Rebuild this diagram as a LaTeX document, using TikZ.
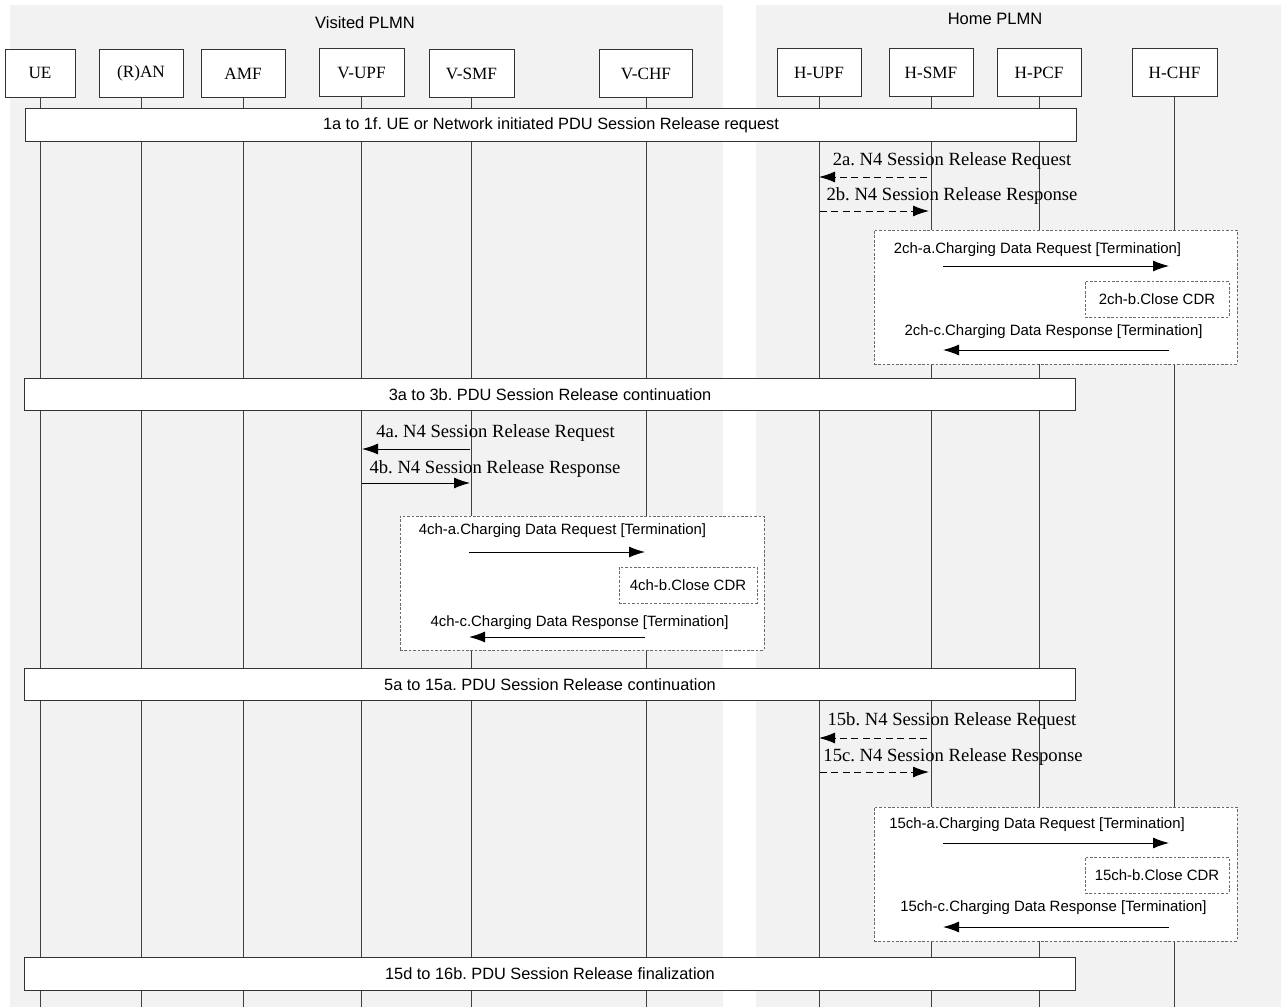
\documentclass[tikz,border=0pt]{standalone}
\usepackage{fontspec}
\setmainfont{Liberation Serif}
\newfontfamily\arialf{Liberation Sans}
\usetikzlibrary{arrows.meta}
\definecolor{plmnbg}{HTML}{F2F2F2}
\definecolor{lifegray}{HTML}{404040}
\definecolor{boxgray}{HTML}{6A6A6A}
\frenchspacing
\begin{document}
\frenchspacing
\begin{tikzpicture}[x=0.02cm,y=-0.02cm,
 entity/.style={draw=black!80, fill=white, line width=0.5pt, minimum height=0.96cm, inner sep=0pt, font=\fontsize{9.8}{11}\selectfont},
 lifeline/.style={draw=lifegray, line width=0.55pt},
 bar/.style={draw=black!80, fill=white, line width=0.5pt, minimum height=0.65cm, minimum width=21.04cm, inner sep=0pt, font=\arialf\fontsize{9.3}{11}\selectfont},
 group/.style={draw=boxgray, fill=white, dash pattern=on 1.5pt off 1pt, line width=0.5pt, inner sep=0pt},
 cdrbox/.style={group, minimum width=2.88cm, minimum height=0.72cm, font=\arialf\fontsize{8.5}{10}\selectfont},
 n4lbl/.style={font=\fontsize{10.6}{12}\selectfont, inner sep=0pt},
 chlbl/.style={font=\arialf\fontsize{8.5}{10}\selectfont, inner sep=0pt},
 msg/.style={-{Latex[length=0.32cm,width=0.22cm]}, line width=0.55pt, draw=black},
 dmsg/.style={msg, dash pattern=on 4pt off 2.5pt},
 titlelbl/.style={font=\arialf\fontsize{9.4}{11}\selectfont, inner sep=0pt}
]
\useasboundingbox (0,0) rectangle (1284,1007);
\coordinate (bottom) at (0,1007);
% backgrounds
\fill[plmnbg] (10,5) rectangle (723,1007);
\fill[plmnbg] (756,5) rectangle (1281,1007);
\node[titlelbl] (vtitle) at (365,23) {Visited PLMN};
\node[titlelbl] (htitle) at (995,19) {Home PLMN};
% entities
\node[entity, minimum width=1.40cm] (ue)   at (40,73)    {UE};
\node[entity, minimum width=1.68cm] (ran)  at (141,73)   {(R)AN};
\node[entity, minimum width=1.68cm] (amf)  at (243,73.5) {AMF};
\node[entity, minimum width=1.70cm] (vupf) at (361.5,72.5) {V-UPF};
\node[entity, minimum width=1.70cm] (vsmf) at (471.5,73.5) {V-SMF};
\node[entity, minimum width=1.86cm] (vchf) at (646,73.5) {V-CHF};
\node[entity, minimum width=1.68cm] (hupf) at (819,72.5) {H-UPF};
\node[entity, minimum width=1.68cm] (hsmf) at (931,72.5) {H-SMF};
\node[entity, minimum width=1.68cm] (hpcf) at (1039,72.5) {H-PCF};
\node[entity, minimum width=1.70cm] (hchf) at (1174.5,72.5) {H-CHF};
% lifelines
\foreach \e in {ue,ran,amf,vupf,vsmf,vchf,hupf,hsmf,hpcf,hchf}
  \draw[lifeline] (\e.south) -- (\e.south |- bottom);
% bars
\node[bar] (b1) at (551,125) {1a to 1f. UE or Network initiated PDU Session Release request};
\node[bar] (b3) at (550,394.5) {3a to 3b. PDU Session Release continuation};
\node[bar] (b5) at (550,684.5) {5a to 15a. PDU Session Release continuation};
\node[bar] (b15) at (550,974) {15d to 16b. PDU Session Release finalization};
% step 2
\node[n4lbl] (l2a) at (952,161) {2a. N4 Session Release Request};
\node[n4lbl] (l2b) at (952,196) {2b. N4 Session Release Response};
\coordinate (m2a1) at (927,177); \coordinate (m2a2) at (819,177);
\coordinate (m2b1) at (820,211); \coordinate (m2b2) at (929,211);
\draw[dmsg] (m2a1) -- (m2a2);
\draw[dmsg] (m2b1) -- (m2b2);
\node[group, minimum width=7.26cm, minimum height=2.68cm] (g2) at (1055.5,297) {};
\node[chlbl] (l2cha) at (1037.5,250) {2ch-a.Charging Data Request [Termination]};
\coordinate (m2ca1) at (943,266); \coordinate (m2ca2) at (1169,266);
\draw[msg] (m2ca1) -- (m2ca2);
\node[cdrbox] (c2) at (1157,299) {2ch-b.Close CDR};
\node[chlbl] (l2chc) at (1053.5,332) {2ch-c.Charging Data Response [Termination]};
\coordinate (m2cc1) at (1169,350); \coordinate (m2cc2) at (943,350);
\draw[msg] (m2cc1) -- (m2cc2);
% step 4
\node[n4lbl] (l4a) at (495.5,433) {4a. N4 Session Release Request};
\node[n4lbl] (l4b) at (495,469) {4b. N4 Session Release Response};
\coordinate (m4a1) at (470,449); \coordinate (m4a2) at (362,449);
\coordinate (m4b1) at (362,483); \coordinate (m4b2) at (470,483);
\draw[msg] (m4a1) -- (m4a2);
\draw[msg] (m4b1) -- (m4b2);
\node[group, minimum width=7.28cm, minimum height=2.68cm] (g4) at (582,583) {};
\node[chlbl] (l4cha) at (562.5,531) {4ch-a.Charging Data Request [Termination]};
\coordinate (m4ca1) at (469,552); \coordinate (m4ca2) at (645,552);
\draw[msg] (m4ca1) -- (m4ca2);
\node[cdrbox, minimum width=2.76cm] (c4) at (688,585) {4ch-b.Close CDR};
\node[chlbl] (l4chc) at (579.5,623) {4ch-c.Charging Data Response [Termination]};
\coordinate (m4cc1) at (645,637); \coordinate (m4cc2) at (469,637);
\draw[msg] (m4cc1) -- (m4cc2);
% step 15
\node[n4lbl] (l15b) at (952,721) {15b. N4 Session Release Request};
\node[n4lbl] (l15c) at (953,757) {15c. N4 Session Release Response};
\coordinate (m15b1) at (927,738); \coordinate (m15b2) at (819,738);
\coordinate (m15c1) at (820,772); \coordinate (m15c2) at (929,772);
\draw[dmsg] (m15b1) -- (m15b2);
\draw[dmsg] (m15c1) -- (m15c2);
\node[group, minimum width=7.26cm, minimum height=2.68cm] (g15) at (1055.5,874) {};
\node[chlbl] (l15cha) at (1037,825) {15ch-a.Charging Data Request [Termination]};
\coordinate (m15ca1) at (943,843); \coordinate (m15ca2) at (1169,843);
\draw[msg] (m15ca1) -- (m15ca2);
\node[cdrbox] (c15) at (1157,875) {15ch-b.Close CDR};
\node[chlbl] (l15chc) at (1053.5,908) {15ch-c.Charging Data Response [Termination]};
\coordinate (m15cc1) at (1169,927); \coordinate (m15cc2) at (943,927);
\draw[msg] (m15cc1) -- (m15cc2);
\end{tikzpicture}
\end{document}
